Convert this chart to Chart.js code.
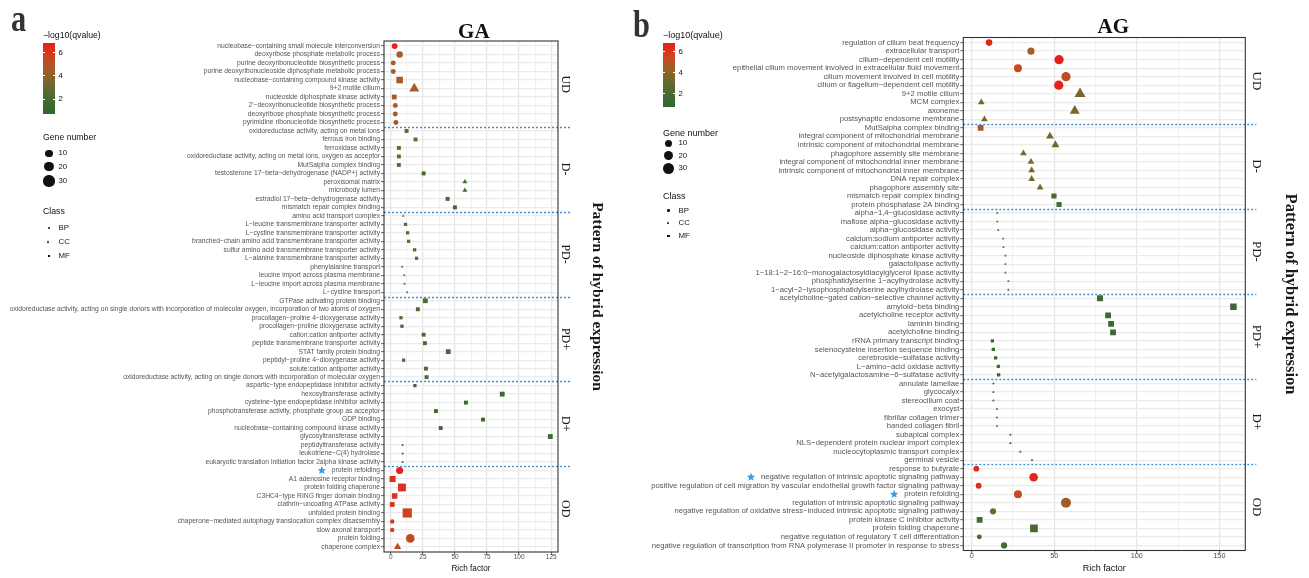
<!DOCTYPE html>
<html>
<head>
<meta charset="utf-8">
<script src="https://cdn.jsdelivr.net/npm/chart.js@4/dist/chart.umd.min.js"></script>
<style>
  body { margin: 0; background: #fff; width: 1309px; height: 578px; position: relative; overflow: hidden;
         font-family: 'Liberation Sans', Arial, sans-serif; }
  canvas { position: absolute; top: 0; }
  #chartA { left: 0; }
  #chartB { left: 620px; }
  .lg { position: absolute; color: #111; white-space: nowrap; line-height: 1; transform: translateY(-50%); }
</style>
</head>
<body>
<canvas id="chartA" width="620" height="578"></canvas>
<canvas id="chartB" width="689" height="578"></canvas>
<script>
// ---- data ----
const groups = ['UD', 'D-', 'PD-', 'PD+', 'D+', 'OD'];

const termsA = [
  'nucleobase-containing small molecule interconversion',
  'deoxyribose phosphate metabolic process',
  'purine deoxyribonucleotide biosynthetic process',
  'purine deoxyribonucleoside diphosphate metabolic process',
  'nucleobase-containing compound kinase activity',
  '9+2 motile cilium',
  'nucleoside diphosphate kinase activity',
  "2'-deoxyribonucleotide biosynthetic process",
  'deoxyribose phosphate biosynthetic process',
  'pyrimidine ribonucleotide biosynthetic process',
  'oxidoreductase activity, acting on metal ions',
  'ferrous iron binding',
  'ferroxidase activity',
  'oxidoreductase activity, acting on metal ions, oxygen as acceptor',
  'MutSalpha complex binding',
  'testosterone 17-beta-dehydrogenase (NADP+) activity',
  'peroxisomal matrix',
  'microbody lumen',
  'estradiol 17-beta-dehydrogenase activity',
  'mismatch repair complex binding',
  'amino acid transport complex',
  'L-leucine transmembrane transporter activity',
  'L-cystine transmembrane transporter activity',
  'branched-chain amino acid transmembrane transporter activity',
  'sulfur amino acid transmembrane transporter activity',
  'L-alanine transmembrane transporter activity',
  'phenylalanine transport',
  'leucine import across plasma membrane',
  'L-leucine import across plasma membrane',
  'L-cystine transport',
  'GTPase activating protein binding',
  'oxidoreductase activity, acting on single donors with incorporation of molecular oxygen, incorporation of two atoms of oxygen',
  'procollagen-proline 4-dioxygenase activity',
  'procollagen-proline dioxygenase activity',
  'cation:cation antiporter activity',
  'peptide transmembrane transporter activity',
  'STAT family protein binding',
  'peptidyl-proline 4-dioxygenase activity',
  'solute:cation antiporter activity',
  'oxidoreductase activity, acting on single donors with incorporation of molecular oxygen',
  'aspartic-type endopeptidase inhibitor activity',
  'hexosyltransferase activity',
  'cysteine-type endopeptidase inhibitor activity',
  'phosphotransferase activity, phosphate group as acceptor',
  'GDP binding',
  'nucleobase-containing compound kinase activity',
  'glycosyltransferase activity',
  'peptidyltransferase activity',
  'leukotriene-C(4) hydrolase',
  'eukaryotic translation initiation factor 2alpha kinase activity',
  'protein refolding',
  'A1 adenosine receptor binding',
  'protein folding chaperone',
  'C3HC4-type RING finger domain binding',
  'clathrin-uncoating ATPase activity',
  'unfolded protein binding',
  'chaperone-mediated autophagy translocation complex disassembly',
  'slow axonal transport',
  'protein folding',
  'chaperone complex'
];
const classA = [
  'BP','BP','BP','BP','MF','CC','MF','BP','BP','BP',
  'MF','MF','MF','MF','MF','MF','CC','CC','MF','MF',
  'CC','MF','MF','MF','MF','MF','BP','BP','BP','BP',
  'MF','MF','MF','MF','MF','MF','MF','MF','MF','MF',
  'MF','MF','MF','MF','MF','MF','MF','MF','MF','MF',
  'BP','MF','MF','MF','MF','MF','BP','BP','BP','CC'
];
const richA = [
  2.9, 6.8, 1.8, 1.8, 6.8, 18.2, 2.6, 3.4, 3.4, 3.9,
  12.2, 19.2, 6.2, 6.2, 6.2, 25.5, 57.7, 57.7, 44.2, 49.9,
  9.6, 11.4, 13.0, 13.8, 18.5, 20.0, 8.8, 10.4, 10.6, 12.7,
  26.8, 21.0, 7.8, 8.6, 25.5, 26.5, 44.7, 9.9, 27.3, 27.8,
  18.7, 86.8, 58.5, 35.1, 71.8, 38.8, 124.3, 9.1, 9.1, 9.1,
  6.8, 1.3, 8.6, 2.9, 1.0, 12.7, 1.0, 1.0, 15.1, 5.2
];
const qvalA = [
  6.8, 4.6, 4.6, 4.6, 4.6, 4.6, 4.6, 4.6, 4.6, 4.6,
  3.0, 3.0, 3.0, 3.0, 3.0, 1.6, 1.6, 1.6, 1.6, 1.6,
  3.2, 3.0, 3.0, 3.0, 3.0, 3.0, 3.0, 3.0, 3.0, 3.0,
  2.2, 2.2, 2.2, 2.2, 2.2, 2.2, 2.2, 2.2, 2.2, 2.2,
  1.3, 1.3, 1.3, 1.3, 1.3, 1.3, 1.3, 1.3, 1.3, 1.3,
  6.9, 6.2, 6.2, 6.2, 6.2, 5.6, 5.4, 5.4, 5.4, 5.4
];
const genesA = [
  6, 8, 4, 4, 11, 11, 5, 4, 4, 4,
  3, 3, 3, 3, 3, 3, 2, 2, 3, 3,
  1, 2, 2, 2, 2, 2, 1, 1, 1, 1,
  5, 3, 2, 2, 3, 3, 5, 2, 3, 3,
  2, 5, 3, 3, 3, 3, 5, 1, 1, 1,
  10, 9, 17, 7, 5, 25, 3, 3, 16, 5
];
const starsA = [50];

const termsB = [
  'regulation of cilium beat frequency',
  'extracellular transport',
  'cilium-dependent cell motility',
  'epithelial cilium movement involved in extracellular fluid movement',
  'cilium movement involved in cell motility',
  'cilium or flagellum-dependent cell motility',
  '9+2 motile cilium',
  'MCM complex',
  'axoneme',
  'postsynaptic endosome membrane',
  'MutSalpha complex binding',
  'integral component of mitochondrial membrane',
  'intrinsic component of mitochondrial membrane',
  'phagophore assembly site membrane',
  'integral component of mitochondrial inner membrane',
  'intrinsic component of mitochondrial inner membrane',
  'DNA repair complex',
  'phagophore assembly site',
  'mismatch repair complex binding',
  'protein phosphatase 2A binding',
  'alpha-1,4-glucosidase activity',
  'maltose alpha-glucosidase activity',
  'alpha-glucosidase activity',
  'calcium:sodium antiporter activity',
  'calcium:cation antiporter activity',
  'nucleoside diphosphate kinase activity',
  'galactolipase activity',
  '1-18:1-2-16:0-monogalactosyldiacylglycerol lipase activity',
  'phosphatidylserine 1-acylhydrolase activity',
  '1-acyl-2-lysophosphatidylserine acylhydrolase activity',
  'acetylcholine-gated cation-selective channel activity',
  'amyloid-beta binding',
  'acetylcholine receptor activity',
  'laminin binding',
  'acetylcholine binding',
  'rRNA primary transcript binding',
  'selenocysteine insertion sequence binding',
  'cerebroside-sulfatase activity',
  'L-amino-acid oxidase activity',
  'N-acetylgalactosamine-6-sulfatase activity',
  'annulate lamellae',
  'glycocalyx',
  'stereocilium coat',
  'exocyst',
  'fibrillar collagen trimer',
  'banded collagen fibril',
  'subapical complex',
  'NLS-dependent protein nuclear import complex',
  'nucleocytoplasmic transport complex',
  'germinal vesicle',
  'response to butyrate',
  'negative regulation of intrinsic apoptotic signaling pathway',
  'positive regulation of cell migration by vascular endothelial growth factor signaling pathway',
  'protein refolding',
  'regulation of intrinsic apoptotic signaling pathway',
  'negative regulation of oxidative stress-induced intrinsic apoptotic signaling pathway',
  'protein kinase C inhibitor activity',
  'protein folding chaperone',
  'negative regulation of regulatory T cell differentiation',
  'negative regulation of transcription from RNA polymerase II promoter in response to stress'
];
const classB = [
  'BP','BP','BP','BP','BP','BP','CC','CC','CC','CC',
  'MF','CC','CC','CC','CC','CC','CC','CC','MF','MF',
  'MF','MF','MF','MF','MF','MF','MF','MF','MF','MF',
  'MF','MF','MF','MF','MF','MF','MF','MF','MF','MF',
  'CC','CC','CC','CC','CC','CC','CC','CC','CC','CC',
  'BP','BP','BP','BP','BP','BP','MF','MF','BP','BP'
];
const richB = [
  10.5, 35.9, 52.9, 28.0, 57.1, 52.7, 65.6, 5.8, 62.4, 7.7,
  5.4, 47.4, 50.7, 31.3, 35.9, 36.3, 36.3, 41.4, 49.8, 52.9,
  15.5, 15.5, 16.1, 19.0, 19.2, 20.4, 20.4, 20.4, 22.2, 22.2,
  77.7, 158.5, 82.6, 84.4, 85.6, 12.5, 13.1, 14.5, 16.1, 16.3,
  13.1, 13.1, 13.1, 15.3, 15.3, 15.3, 23.4, 23.4, 29.4, 36.5,
  2.8, 37.5, 4.2, 28.0, 57.1, 12.9, 4.8, 37.7, 4.6, 19.6
];
const qvalB = [
  6.8, 4.5, 6.8, 5.5, 5.2, 6.8, 3.4, 3.4, 3.4, 3.4,
  4.6, 3.4, 3.4, 3.4, 3.4, 3.4, 3.4, 3.4, 2.0, 2.0,
  3.8, 3.8, 3.8, 3.8, 3.8, 3.8, 3.8, 3.8, 3.8, 3.8,
  1.4, 1.4, 1.4, 1.4, 1.4, 1.4, 1.4, 1.4, 1.4, 1.4,
  1.8, 1.8, 1.8, 1.8, 1.8, 1.8, 1.8, 1.8, 1.8, 1.8,
  6.3, 6.6, 6.3, 5.3, 4.5, 3.2, 2.0, 2.0, 1.8, 1.8
];
const genesB = [
  8, 10, 19, 13, 19, 19, 14, 4, 11, 4,
  8, 6, 6, 4, 4, 4, 4, 4, 6, 6,
  1, 1, 1, 1, 1, 1, 1, 1, 1, 1,
  9, 11, 8, 8, 8, 2, 2, 2, 2, 2,
  1, 1, 1, 1, 1, 1, 1, 1, 1, 1,
  6, 16, 6, 13, 23, 7, 8, 16, 4, 7
];
const starsB = [51, 53];

const qTicks = [2, 4, 6];
const geneTicks = [10, 20, 30];
const classes = ['BP', 'CC', 'MF'];

// ---- styling helpers ----
const qMin = 0.74, qMax = 6.8;
const qStops = [0.74, 2.2, 3.2, 4.4, 5.5, 6.8];
const qColors = [[46,104,50], [76,106,50], [108,105,46], [158,96,42], [202,70,32], [232,32,26]];

function colorFor(v) {
  if (v <= qStops[0]) return 'rgb(' + qColors[0].join(',') + ')';
  for (let i = 1; i < qStops.length; i++) {
    if (v <= qStops[i]) {
      const t = (v - qStops[i - 1]) / (qStops[i] - qStops[i - 1]);
      const c = qColors[i - 1].map((a, k) => Math.round(a + (qColors[i][k] - a) * t));
      return 'rgb(' + c.join(',') + ')';
    }
  }
  return 'rgb(' + qColors[qColors.length - 1].join(',') + ')';
}

// gene number -> radius (area scale)
const rad = n => 1 + 5 * Math.sqrt((n - 1) / 34);
const shapeOf = { BP: 'circle', CC: 'triangle', MF: 'rect' };
const shapeScale = { BP: 1, CC: 1.555, MF: 1.253 };
const fmt = s => s.replace(/-/g, '\u2212');

function drawStar(ctx, cx, cy, r) {
  ctx.beginPath();
  for (let k = 0; k < 10; k++) {
    const rr = k % 2 === 0 ? r : r * 0.45;
    const ang = -Math.PI / 2 + k * Math.PI / 5;
    const px = cx + rr * Math.cos(ang), py = cy + rr * Math.sin(ang);
    if (k === 0) ctx.moveTo(px, py); else ctx.lineTo(px, py);
  }
  ctx.closePath();
  ctx.fill();
}

const panelDecor = {
  id: 'panelDecor',
  afterDraw(chart, args, o) {
    const ctx = chart.ctx, a = chart.chartArea, y = chart.scales.y;
    ctx.save();

    // dotted separators between patterns
    ctx.strokeStyle = '#3f8fd4';
    ctx.lineWidth = 1.3;
    ctx.setLineDash([2, 2]);
    for (let g = 1; g < groups.length; g++) {
      const yy = Math.round(y.getPixelForValue(g * 10 - 0.5)) + 0.5;
      ctx.beginPath();
      ctx.moveTo(a.left, yy);
      ctx.lineTo(a.right + o.sepExt, yy);
      ctx.stroke();
    }
    ctx.setLineDash([]);

    // panel border
    ctx.strokeStyle = '#333';
    ctx.lineWidth = 1.1;
    ctx.strokeRect(a.left, a.top, a.right - a.left, a.bottom - a.top);

    // strip labels
    ctx.fillStyle = '#1a1a1a';
    ctx.textAlign = 'center';
    ctx.textBaseline = 'middle';
    ctx.font = o.stripFont;
    groups.forEach((g, i) => {
      ctx.save();
      ctx.translate(a.right + o.stripX, y.getPixelForValue(i * 10 + 4.5));
      ctx.rotate(Math.PI / 2);
      ctx.fillText(g, 0, 0);
      ctx.restore();
    });

    // side title
    ctx.font = o.sideFont;
    ctx.save();
    ctx.translate(a.right + o.sideX, (a.top + a.bottom) / 2);
    ctx.rotate(Math.PI / 2);
    ctx.fillText('Pattern of hybrid expression', 0, 0);
    ctx.restore();

    // x axis title
    ctx.fillStyle = '#111';
    ctx.font = o.xTitleFont;
    ctx.fillText('Rich factor', (a.left + a.right) / 2, o.xTitleY);

    // panel title
    ctx.textBaseline = 'alphabetic';
    ctx.font = 'bold 21px "Liberation Serif", serif';
    ctx.fillText(o.title, o.titleX, o.titleY);

    // panel letter
    ctx.save();
    ctx.fillStyle = '#333';
    ctx.translate(o.letterX, o.letterY);
    ctx.scale(0.8, 1);
    ctx.textAlign = 'left';
    ctx.font = 'bold 38px "Liberation Serif", serif';
    ctx.fillText(o.letter, 0, 0);
    ctx.restore();

    // stars in front of highlighted terms
    ctx.font = o.tickFont + 'px "Liberation Sans", Arial, sans-serif';
    ctx.fillStyle = '#3a9de0';
    o.stars.forEach(i => {
      const w = ctx.measureText(fmt(o.terms[i])).width;
      drawStar(ctx, a.left - 4 - w - o.starGap, y.getPixelForValue(i), 4.4);
    });
    ctx.restore();
  }
};

Chart.defaults.font.family = "'Liberation Sans', Arial, sans-serif";
Chart.defaults.animation = false;

function makePanel(p) {
  const idx = p.terms.map((t, i) => i);
  const xTicks = [];
  for (let v = 0; v <= p.xMax; v += p.step) xTicks.push(v);
  return new Chart(document.getElementById(p.canvas), {
    type: 'scatter',
    data: {
      datasets: [{
        data: p.rich.map((x, i) => ({ x: x, y: i })),
        pointStyle: c => shapeOf[p.cls[c.dataIndex]],
        pointRadius: c => rad(p.genes[c.dataIndex]) * shapeScale[p.cls[c.dataIndex]],
        pointBackgroundColor: c => colorFor(p.qval[c.dataIndex]),
        pointBorderWidth: 0,
        pointBorderColor: 'rgba(0,0,0,0)'
      }]
    },
    options: {
      responsive: false,
      events: [],
      layout: { padding: { left: 0, right: p.width - p.area.right, top: p.area.top, bottom: 578 - p.area.bottom - 16 } },
      plugins: {
        legend: { display: false },
        tooltip: { enabled: false },
        panelDecor: p.decor
      },
      scales: {
        x: {
          type: 'linear',
          min: p.xMin,
          max: p.xMax,
          afterBuildTicks: s => { s.ticks = xTicks.map(v => ({ value: v })); },
          afterFit: s => { s.height = 16; },
          border: { display: false },
          grid: {
            color: c => (c.tick && c.tick.value % p.major === 0) ? '#e6e6e6' : '#efefef',
            lineWidth: c => (c.tick && c.tick.value % p.major === 0) ? 1.3 : 0.9,
            tickLength: 3,
            tickWidth: 0.8,
            tickColor: c => (c.tick && c.tick.value % p.major === 0) ? '#333' : 'rgba(0,0,0,0)'
          },
          ticks: {
            autoSkip: false,
            maxRotation: 0,
            padding: -2,
            color: '#4d4d4d',
            font: { size: p.xFont },
            callback: v => (v % p.major === 0 ? String(v) : '')
          }
        },
        y: {
          type: 'linear',
          reverse: true,
          min: -0.6,
          max: p.terms.length - 0.4,
          afterBuildTicks: s => { s.ticks = idx.map(v => ({ value: v })); },
          afterFit: s => { s.width = p.area.left; },
          border: { display: false },
          grid: { color: '#ebebeb', lineWidth: 1.3, tickLength: 3, tickWidth: 0.8, tickColor: '#333' },
          ticks: {
            autoSkip: false,
            padding: 1,
            color: '#555',
            font: { size: p.decor.tickFont },
            callback: v => fmt(p.terms[v] || '')
          }
        }
      }
    },
    plugins: [panelDecor]
  });
}

makePanel({
  canvas: 'chartA', width: 620,
  area: { left: 384, right: 558, top: 41, bottom: 552 },
  terms: termsA, cls: classA, rich: richA, qval: qvalA, genes: genesA,
  xMin: -5.4, xMax: 130.3, step: 12.5, major: 25, xFont: 6.5,
  decor: {
    terms: termsA, stars: starsA, tickFont: 6.72, starGap: 10,
    title: 'GA', titleX: 473.8, titleY: 37.5,
    letter: 'a', letterX: 11, letterY: 31,
    stripFont: '12px "Liberation Serif", serif', stripX: 7,
    sideFont: 'bold 15.5px "Liberation Serif", serif', sideX: 39,
    xTitleFont: '8.2px "Liberation Sans", Arial, sans-serif', xTitleY: 569,
    sepExt: 12
  }
});

makePanel({
  canvas: 'chartB', width: 689,
  area: { left: 343.3, right: 625.3, top: 37.5, bottom: 550.5 },
  terms: termsB, cls: classB, rich: richB, qval: qvalB, genes: genesB,
  xMin: -5.1, xMax: 165.7, step: 25, major: 50, xFont: 7.3,
  decor: {
    terms: termsB, stars: starsB, tickFont: 7.7, starGap: 10,
    title: 'AG', titleX: 493.3, titleY: 32.5,
    letter: 'b', letterX: 13, letterY: 37,
    stripFont: '13px "Liberation Serif", serif', stripX: 11.4,
    sideFont: 'bold 16.5px "Liberation Serif", serif', sideX: 44.7,
    xTitleFont: '9px "Liberation Sans", Arial, sans-serif', xTitleY: 568.3,
    sepExt: 11
  }
});

// ---- legends (HTML) ----
function addText(txt, x, y, size) {
  const d = document.createElement('div');
  d.className = 'lg';
  d.textContent = txt;
  d.style.left = x + 'px';
  d.style.top = y + 'px';
  d.style.fontSize = size + 'px';
  document.body.appendChild(d);
}
function addBox(css) {
  const d = document.createElement('div');
  d.style.cssText = 'position:absolute;' + css;
  document.body.appendChild(d);
}

function buildLegend(L) {
  addText('\u2212log10(qvalue)', L.x, L.t1, L.fs);
  const grad = qStops.map((v, i) => 'rgb(' + qColors[i].join(',') + ') ' +
    ((v - qMin) / (qMax - qMin) * 100).toFixed(1) + '%').join(',');
  addBox(`left:${L.x}px;top:${L.barTop}px;width:12px;height:${L.barH}px;background:linear-gradient(to top,${grad});`);
  qTicks.forEach(v => {
    const yy = L.barTop + L.barH * (1 - (v - qMin) / (qMax - qMin));
    addBox(`left:${L.x}px;top:${yy - 0.5}px;width:2.4px;height:1px;background:#fff;`);
    addBox(`left:${L.x + 9.6}px;top:${yy - 0.5}px;width:2.4px;height:1px;background:#fff;`);
    addText(String(v), L.lx, yy, L.fl);
  });
  addText('Gene number', L.x, L.t2, L.fs);
  geneTicks.forEach((n, i) => {
    const r = rad(n);
    addBox(`left:${L.dx - r}px;top:${L.gy[i] - r}px;width:${2 * r}px;height:${2 * r}px;border-radius:50%;background:#111;`);
    addText(String(n), L.lx, L.gy[i], L.fl);
  });
  addText('Class', L.x, L.t3, L.fs);
  classes.forEach((c, i) => {
    const yy = L.cy[i];
    if (c === 'BP') addBox(`left:${L.dx - 1.3}px;top:${yy - 1.3}px;width:2.6px;height:2.6px;border-radius:50%;background:#111;`);
    if (c === 'CC') addBox(`left:${L.dx - 1.7}px;top:${yy - 1.8}px;width:0;height:0;border-left:1.7px solid transparent;border-right:1.7px solid transparent;border-bottom:3px solid #111;`);
    if (c === 'MF') addBox(`left:${L.dx - 1.3}px;top:${yy - 1.3}px;width:2.6px;height:2.6px;background:#111;`);
    addText(c, L.lx, yy, L.fl);
  });
}

buildLegend({ x: 43, t1: 35, barTop: 43.3, barH: 70.7, lx: 58.5, fs: 8.7, fl: 7.8,
  t2: 137, dx: 49, gy: [153.3, 166.7, 181], t3: 211, cy: [228, 242, 256] });
buildLegend({ x: 663, t1: 35, barTop: 43.3, barH: 64, lx: 678.5, fs: 9, fl: 7.8,
  t2: 133.3, dx: 668.3, gy: [143.3, 155.7, 168.3], t3: 195.5, cy: [210.7, 222.7, 236] });
</script>
</body>
</html>
